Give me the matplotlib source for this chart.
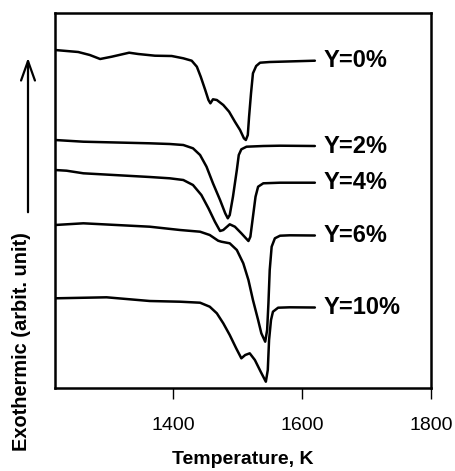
import matplotlib
matplotlib.use("Agg")
import matplotlib.pyplot as plt
from matplotlib.patches import FancyArrowPatch

plt.rcParams["font.family"] = ["Liberation Sans", "DejaVu Sans"]

# DTA curves (temperature in K, signal in arbitrary units)
t_y0 = [1217, 1253, 1271, 1287, 1305, 1332, 1346, 1372, 1398, 1416, 1429,
        1437, 1443, 1450, 1455, 1458, 1462, 1468, 1478, 1487, 1496, 1504,
        1510, 1513, 1516, 1518, 1521, 1524, 1529, 1535, 1550, 1566, 1620]
s_y0 = [338, 336, 333, 329, 331.3, 335.3, 334, 332.3, 332, 329.7, 327.3,
        321.3, 311.3, 298, 288, 284.7, 288.7, 288, 283, 276.3, 266.3, 258,
        249.7, 248, 253, 271.3, 294.7, 314.7, 322, 325.3, 326, 326.3, 327.3]

t_y2 = [1217, 1261, 1364, 1395, 1416, 1431, 1442, 1452, 1462, 1473, 1481,
        1485, 1488, 1493, 1499, 1502, 1506, 1514, 1540, 1566, 1620]
s_y2 = [248, 246.3, 244.7, 244, 243, 239.7, 233, 221.3, 204.7, 188, 174.7,
        169.7, 173, 191.3, 218, 233, 238.7, 241.3, 242, 242.3, 242]

t_y4 = [1217, 1235, 1261, 1364, 1395, 1416, 1431, 1444, 1455, 1465, 1473,
        1478, 1488, 1496, 1506, 1517, 1520, 1524, 1528, 1532, 1540, 1566, 1620]
s_y4 = [218, 217.3, 214.7, 211, 209.7, 208, 203, 193, 179.7, 166.3, 157,
        158, 163.7, 161.3, 154.7, 147, 151.3, 171.3, 191.3, 201.3, 204.7,
        205.3, 205.3]

t_y6 = [1217, 1261, 1364, 1411, 1442, 1457, 1470, 1475, 1488, 1499, 1509,
        1517, 1524, 1532, 1537, 1543, 1546, 1548, 1550, 1553, 1558, 1566,
        1581, 1620]
s_y6 = [163, 164.7, 161.3, 158, 156.3, 153, 147.3, 146.3, 144.7, 138, 124.7,
        108, 88, 68, 54.7, 46.3, 58, 84.7, 118, 141.3, 149.7, 152.3, 152.7,
        152.5]

t_y10 = [1217, 1297, 1364, 1411, 1442, 1457, 1468, 1478, 1488, 1498, 1506,
         1512, 1519, 1527, 1536, 1544, 1547, 1549, 1552, 1555, 1563, 1581, 1620]
s_y10 = [89.7, 90.7, 87, 86.3, 85.3, 81.3, 74.7, 64.7, 53, 39.7, 29.7,
         33, 34.7, 28, 16.3, 6.3, 18, 48, 68, 76.3, 80.3, 80.7, 80.5]

labels = ["Y=0%", "Y=2%", "Y=4%", "Y=6%", "Y=10%"]
xticks = [1400, 1600, 1800]

curves = [(t_y0, s_y0), (t_y2, s_y2), (t_y4, s_y4), (t_y6, s_y6), (t_y10, s_y10)]

fig = plt.figure(figsize=(4.56, 4.71), dpi=100)
ax = fig.add_axes([0.1206, 0.1762, 0.8244, 0.7962])

for (t, s), lab in zip(curves, labels):
    ax.plot(t, s, color="black", linewidth=1.8, solid_joinstyle="round",
            solid_capstyle="round")
    ax.annotate(lab, (t[-1], s[-1]), xytext=(6, 0), textcoords="offset points",
                ha="left", va="center", fontsize=17, fontweight="bold")

ax.set_xlim(1217, 1800)
ax.set_ylim(0, 375)
ax.set_xticks(xticks)
ax.set_yticks([])
ax.tick_params(axis="x", direction="out", length=8, width=1, pad=13, labelsize=14)
for sp in ax.spines.values():
    sp.set_linewidth(1.8)

ax.set_xlabel("Temperature, K", fontsize=14, fontweight="bold", va="top")
ax.xaxis.set_label_coords(0.5, -0.168)

fig.text(0.047, 0.274, "Exothermic (arbit. unit)", rotation=90, ha="center",
         va="center", fontsize=14.4, fontweight="bold")

# arrow next to the y label
arrow = FancyArrowPatch((28 / 456, 1 - 215 / 471), (28 / 456, 1 - 55 / 471),
                        transform=fig.transFigure,
                        arrowstyle="->, head_length=0.7, head_width=0.25",
                        mutation_scale=20, linewidth=1.6, color="black")
fig.patches.append(arrow)

fig.savefig("out.png", dpi=100)
